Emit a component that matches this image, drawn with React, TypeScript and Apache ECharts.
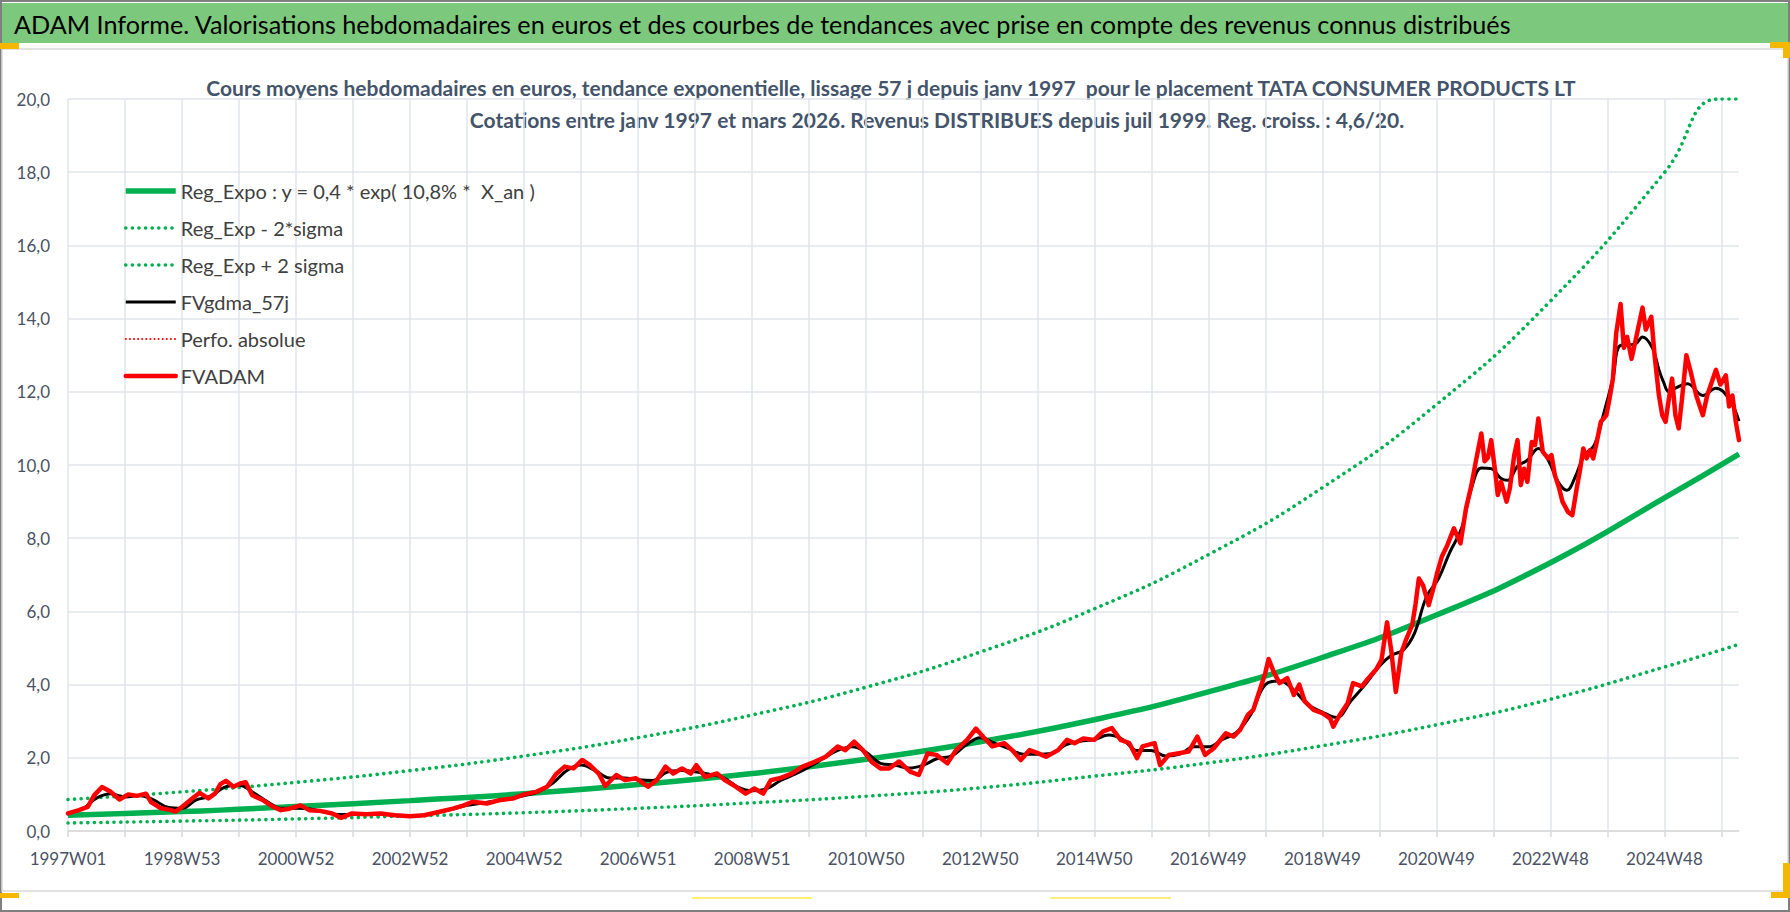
import React, { useEffect, useRef } from 'react';
import * as echarts from 'echarts';

// x = week index since 1997W01, one label every 104 weeks
const TICK_LABELS = [
  '1997W01', '1998W53', '2000W52', '2002W52', '2004W52', '2006W51', '2008W51', '2010W50',
  '2012W50', '2014W50', '2016W49', '2018W49', '2020W49', '2022W48', '2024W48',
];
const LAST_WEEK = 1524;

const TITLE = 'ADAM Informe. Valorisations hebdomadaires en euros et des courbes de tendances avec prise en compte des revenus connus distribués';
const SUB_1 = 'Cours moyens hebdomadaires en euros, tendance exponentielle, lissage 57 j depuis janv 1997  pour le placement TATA CONSUMER PRODUCTS LT';
const SUB_2 = 'Cotations entre janv 1997 et mars 2026. Revenus DISTRIBUES depuis juil 1999. Reg. croiss. : 4,6/20.';

const NAMES = [
  'Reg_Expo : y = 0,4 * exp( 10,8% *  X_an )',
  'Reg_Exp - 2*sigma',
  'Reg_Exp + 2 sigma',
  'FVgdma_57j',
  'Perfo. absolue',
  'FVADAM',
];

const REG_EXPO = [
  [0, 0.43], [104, 0.53], [208, 0.67], [312, 0.83], [416, 1.02], [520, 1.27], [624, 1.57],
  [728, 1.96], [832, 2.44], [936, 3.04], [1040, 3.8], [1144, 4.74], [1248, 5.9], [1352, 7.33],
  [1456, 9.1], [1524, 10.3],
];
const REG_LOW = [
  [0, 0.22], [104, 0.27], [208, 0.33], [312, 0.41], [416, 0.5], [520, 0.62], [624, 0.77],
  [728, 0.95], [832, 1.18], [936, 1.5], [1040, 1.86], [1144, 2.33], [1248, 2.9], [1352, 3.6],
  [1456, 4.48], [1524, 5.1],
];
const REG_HIGH = [
  [0, 0.86], [104, 1.07], [208, 1.33], [312, 1.65], [416, 2.05], [520, 2.55], [624, 3.17],
  [728, 3.93], [832, 4.89], [936, 6.07], [1040, 7.55], [1144, 9.38], [1248, 11.65], [1352, 14.48],
  [1456, 17.99], [1505, 20], [1524, 20],
];
const FV_GDMA = [
  [0, 0.5], [13, 0.6], [26, 0.9], [39, 1.02], [52, 0.93], [65, 0.97], [78, 0.85], [91, 0.65],
  [104, 0.62], [117, 0.85], [130, 0.95], [143, 1.2], [156, 1.25], [169, 1.05], [182, 0.8],
  [195, 0.62], [208, 0.62], [221, 0.6], [234, 0.52], [247, 0.45], [260, 0.45], [273, 0.46],
  [286, 0.46], [299, 0.43], [312, 0.41], [325, 0.44], [338, 0.52], [351, 0.6], [364, 0.7],
  [377, 0.76], [390, 0.82], [403, 0.88], [416, 0.97], [429, 1.07], [442, 1.3], [455, 1.65],
  [468, 1.8], [481, 1.65], [494, 1.45], [507, 1.45], [520, 1.4], [533, 1.38], [546, 1.6],
  [559, 1.65], [572, 1.62], [585, 1.55], [598, 1.45], [611, 1.2], [624, 1.1], [637, 1.15],
  [650, 1.38], [663, 1.55], [676, 1.75], [689, 1.98], [702, 2.2], [715, 2.3], [728, 2.15],
  [741, 1.85], [754, 1.8], [767, 1.72], [780, 1.8], [793, 1.98], [806, 2.05], [819, 2.35],
  [832, 2.55], [845, 2.4], [858, 2.25], [871, 2.1], [884, 2.1], [897, 2.12], [910, 2.35],
  [923, 2.45], [936, 2.5], [949, 2.62], [962, 2.5], [975, 2.2], [988, 2.2], [1001, 2.05],
  [1014, 2.1], [1027, 2.3], [1040, 2.3], [1053, 2.5], [1066, 2.7], [1079, 3.2], [1092, 4.0],
  [1105, 4.1], [1118, 3.85], [1131, 3.45], [1144, 3.25], [1157, 3.1], [1170, 3.55], [1183, 4.0],
  [1196, 4.5], [1207, 4.8], [1218, 4.95], [1228, 5.4], [1239, 6.4], [1250, 6.9], [1260, 7.6],
  [1271, 8.27], [1280, 9.36], [1289, 9.92], [1298, 9.9], [1307, 9.63], [1313, 9.58],
  [1322, 9.97], [1331, 10.13], [1341, 10.45], [1350, 10.13], [1359, 9.54], [1367, 9.31],
  [1374, 9.63], [1383, 10.27], [1392, 10.54], [1401, 11.45], [1409, 12.36], [1416, 13.27],
  [1429, 13.3], [1436, 13.5], [1445, 13.2], [1451, 12.6], [1455, 12.28], [1460, 12.0],
  [1466, 12.1], [1477, 12.22], [1491, 11.9], [1503, 12.1], [1515, 11.8], [1524, 11.2],
];
const FV_ADAM = [
  [0, 0.48], [10, 0.57], [18, 0.66], [24, 0.98], [31, 1.2], [39, 1.07], [47, 0.86], [55, 1.0],
  [63, 0.96], [71, 1.02], [76, 0.78], [84, 0.63], [94, 0.57], [98, 0.53], [102, 0.61],
  [115, 0.93], [120, 1.04], [128, 0.89], [134, 1.02], [139, 1.28], [144, 1.37], [151, 1.21],
  [157, 1.3], [162, 1.33], [168, 0.98], [178, 0.84], [186, 0.68], [194, 0.57], [202, 0.61],
  [212, 0.7], [220, 0.57], [230, 0.55], [241, 0.48], [249, 0.36], [259, 0.48], [272, 0.46],
  [285, 0.48], [298, 0.43], [312, 0.4], [325, 0.43], [338, 0.52], [351, 0.61], [361, 0.7],
  [369, 0.8], [382, 0.75], [393, 0.84], [406, 0.89], [416, 1.0], [427, 1.07], [437, 1.21],
  [445, 1.55], [453, 1.76], [461, 1.71], [469, 1.94], [476, 1.8], [484, 1.57], [490, 1.23],
  [500, 1.53], [508, 1.39], [518, 1.44], [529, 1.21], [537, 1.39], [545, 1.76], [552, 1.57],
  [560, 1.71], [568, 1.57], [573, 1.8], [581, 1.48], [592, 1.57], [599, 1.39], [607, 1.25],
  [618, 1.02], [626, 1.16], [634, 1.02], [641, 1.39], [649, 1.44], [660, 1.57], [670, 1.76],
  [681, 1.89], [691, 2.03], [702, 2.31], [709, 2.21], [717, 2.44], [725, 2.21], [733, 1.89],
  [741, 1.71], [749, 1.71], [758, 1.9], [768, 1.62], [776, 1.53], [784, 2.12], [792, 2.08],
  [802, 1.85], [810, 2.21], [820, 2.49], [828, 2.8], [836, 2.53], [843, 2.31], [854, 2.4],
  [861, 2.21], [869, 1.94], [877, 2.21], [885, 2.12], [892, 2.03], [903, 2.21], [911, 2.49],
  [918, 2.4], [926, 2.53], [936, 2.49], [944, 2.72], [952, 2.81], [960, 2.49], [968, 2.4],
  [975, 1.99], [980, 2.31], [991, 2.4], [996, 1.8], [1004, 2.08], [1012, 2.12], [1022, 2.17],
  [1030, 2.58], [1037, 2.08], [1045, 2.26], [1056, 2.67], [1063, 2.58], [1069, 2.76],
  [1076, 3.17], [1081, 3.31], [1087, 3.86], [1092, 4.32], [1095, 4.7], [1100, 4.32],
  [1105, 4.04], [1112, 4.18], [1118, 3.72], [1123, 4.0], [1128, 3.54], [1136, 3.31],
  [1144, 3.22], [1151, 3.08], [1154, 2.85], [1159, 3.13], [1167, 3.49], [1172, 4.04],
  [1180, 3.95], [1185, 4.14], [1193, 4.41], [1198, 4.68], [1203, 5.7], [1207, 4.9],
  [1211, 3.8], [1216, 4.87], [1220, 5.2], [1226, 5.63], [1229, 6.2], [1232, 6.9], [1236, 6.7],
  [1241, 6.17], [1245, 6.6], [1249, 7.08], [1253, 7.5], [1258, 7.81], [1264, 8.27],
  [1270, 7.86], [1275, 8.81], [1280, 9.45], [1284, 10.1], [1289, 10.86], [1292, 10.1],
  [1295, 10.2], [1298, 10.68], [1302, 9.73], [1304, 9.18], [1307, 9.54], [1312, 9.0],
  [1315, 9.36], [1319, 10.27], [1322, 10.68], [1325, 9.45], [1328, 9.9], [1331, 9.54],
  [1335, 10.63], [1338, 10.54], [1341, 11.27], [1345, 10.36], [1350, 10.18], [1353, 10.27],
  [1356, 9.73], [1360, 9.36], [1363, 9.0], [1368, 8.72], [1372, 8.63], [1376, 9.36],
  [1379, 9.86], [1382, 10.45], [1385, 10.18], [1388, 10.4], [1391, 10.18], [1394, 10.59],
  [1398, 11.18], [1403, 11.36], [1406, 11.82], [1409, 12.36], [1412, 13.6], [1416, 14.4],
  [1419, 13.2], [1422, 13.5], [1426, 12.9], [1430, 13.45], [1436, 14.3], [1439, 13.7],
  [1444, 14.05], [1447, 13.0], [1451, 11.9], [1454, 11.36], [1457, 11.18], [1460, 11.8],
  [1463, 12.36], [1466, 11.36], [1469, 11.0], [1472, 11.8], [1476, 13.0], [1480, 12.54],
  [1485, 11.9], [1491, 11.36], [1495, 11.9], [1503, 12.6], [1507, 12.2], [1512, 12.45],
  [1515, 11.6], [1518, 11.9], [1521, 11.2], [1524, 10.68],
];

const GREEN = '#00b050';
const FONT = 'Lato, "Open Sans", sans-serif';
const DOTS = [0.1, 6.5];

const App: React.FC = () => {
  const chartRef = useRef<HTMLDivElement>(null);

  useEffect(() => {
    if (!chartRef.current) return;
    const chart = echarts.init(chartRef.current, null, { renderer: 'svg' });

    const option: any = {
      animation: false,
      backgroundColor: '#ffffff',
      textStyle: { fontFamily: FONT },
      graphic: [
        { type: 'rect', shape: { x: 1, y: 1, width: 1788, height: 910 }, style: { fill: 'none', stroke: '#7f7f7f', lineWidth: 2 }, silent: true },
        { type: 'rect', shape: { x: 2, y: 3, width: 1786, height: 40 }, style: { fill: '#7cc87c' }, silent: true },
        { type: 'rect', shape: { x: 2, y: 49, width: 1786, height: 842 }, style: { fill: 'none', stroke: '#d9d9d9', lineWidth: 1.5 }, silent: true },
        {
          type: 'text', x: 14, y: 24,
          style: { text: TITLE, fill: '#000000', font: `25.2px ${FONT}`, textAlign: 'left', verticalAlign: 'middle' },
        },
        {
          type: 'text', x: 891, y: 87,
          style: { text: SUB_1, fill: '#44546a', font: `bold 21px ${FONT}`, textAlign: 'center', verticalAlign: 'middle' },
        },
        {
          type: 'text', x: 937, y: 119,
          style: { text: SUB_2, fill: '#44546a', font: `bold 21px ${FONT}`, textAlign: 'center', verticalAlign: 'middle' },
        },
        // selection handles of the original capture
        { type: 'rect', shape: { x: 0, y: 43, width: 19, height: 6 }, style: { fill: '#f5b800' }, silent: true },
        { type: 'rect', shape: { x: 1770, y: 42, width: 20, height: 6 }, style: { fill: '#f5b800' }, silent: true },
        { type: 'rect', shape: { x: 1783, y: 42, width: 7, height: 16 }, style: { fill: '#f5b800' }, silent: true },
        { type: 'rect', shape: { x: 0, y: 893, width: 19, height: 5 }, style: { fill: '#f5b800' }, silent: true },
        { type: 'rect', shape: { x: 1771, y: 892, width: 19, height: 6 }, style: { fill: '#f5b800' }, silent: true },
        { type: 'rect', shape: { x: 1783, y: 863, width: 7, height: 35 }, style: { fill: '#f5b800' }, silent: true },
        { type: 'line', shape: { x1: 692, y1: 898, x2: 812, y2: 898 }, style: { stroke: '#ffe94a', lineWidth: 1.5 }, silent: true },
        { type: 'line', shape: { x1: 1050, y1: 898, x2: 1171, y2: 898 }, style: { stroke: '#ffe94a', lineWidth: 1.5 }, silent: true },
      ],
      legend: {
        orient: 'vertical',
        left: 118,
        top: 176,
        itemWidth: 50,
        itemHeight: 20,
        itemGap: 17,
        data: NAMES,
        itemStyle: { opacity: 0 },
        lineStyle: { width: 'inherit' },
        textStyle: { fontFamily: FONT, fontSize: 20, color: '#404040', lineHeight: 20 },
      },
      grid: { left: 68, right: 51, top: 99, bottom: 81, containLabel: false },
      xAxis: {
        type: 'value',
        min: 0,
        max: LAST_WEEK,
        interval: 52,
        axisLine: { show: true, lineStyle: { color: '#d9d9d9', width: 1.5 } },
        axisTick: { show: true, length: 6, lineStyle: { color: '#d9d9d9', width: 1.5 } },
        axisLabel: {
          margin: 19,
          fontSize: 17,
          color: '#4a5263',
          fontFamily: FONT,
          showMaxLabel: false,
          formatter: (v: number) => (v % 104 === 0 ? TICK_LABELS[v / 104] || '' : ''),
        },
        splitLine: { show: true, showMaxLine: false, lineStyle: { color: '#e1e4ea', width: 1.5 } },
      },
      yAxis: {
        type: 'value',
        min: 0,
        max: 20,
        interval: 2,
        axisLine: { show: false },
        axisTick: { show: false },
        axisLabel: {
          margin: 18,
          fontSize: 17,
          color: '#4a5263',
          fontFamily: FONT,
          formatter: (v: number) => v.toFixed(1).replace('.', ','),
        },
        splitLine: { show: true, lineStyle: { color: '#e1e4ea', width: 1.5 } },
      },
      series: [
        {
          name: NAMES[0], type: 'line', data: REG_EXPO, symbol: 'none', smooth: true,
          lineStyle: { color: GREEN, width: 5.5 }, itemStyle: { color: GREEN },
        },
        {
          name: NAMES[1], type: 'line', data: REG_LOW, symbol: 'none', smooth: true,
          lineStyle: { color: GREEN, width: 3.6, type: DOTS, cap: 'round' }, itemStyle: { color: GREEN },
        },
        {
          name: NAMES[2], type: 'line', data: REG_HIGH, symbol: 'none', smooth: true,
          lineStyle: { color: GREEN, width: 3.6, type: DOTS, cap: 'round' }, itemStyle: { color: GREEN },
        },
        {
          name: NAMES[3], type: 'line', data: FV_GDMA, symbol: 'none', smooth: 0.4,
          lineStyle: { color: '#000000', width: 3, join: 'round' }, itemStyle: { color: '#000000' },
        },
        {
          name: NAMES[4], type: 'line', data: [], symbol: 'none',
          lineStyle: { color: '#ff0000', width: 2, type: [0.1, 4], cap: 'round' }, itemStyle: { color: '#ff0000' },
        },
        {
          name: NAMES[5], type: 'line', data: FV_ADAM, symbol: 'none',
          lineStyle: { color: '#ff0000', width: 4.5, join: 'round', cap: 'round' }, itemStyle: { color: '#ff0000' },
        },
      ],
    };

    chart.setOption(option);
    return () => {
      chart.dispose();
    };
  }, []);

  return (
    <div
      ref={chartRef}
      style={{ position: 'fixed', left: 0, top: 0, width: 1790, height: 912, background: '#ffffff' }}
    />
  );
};

export default App;
